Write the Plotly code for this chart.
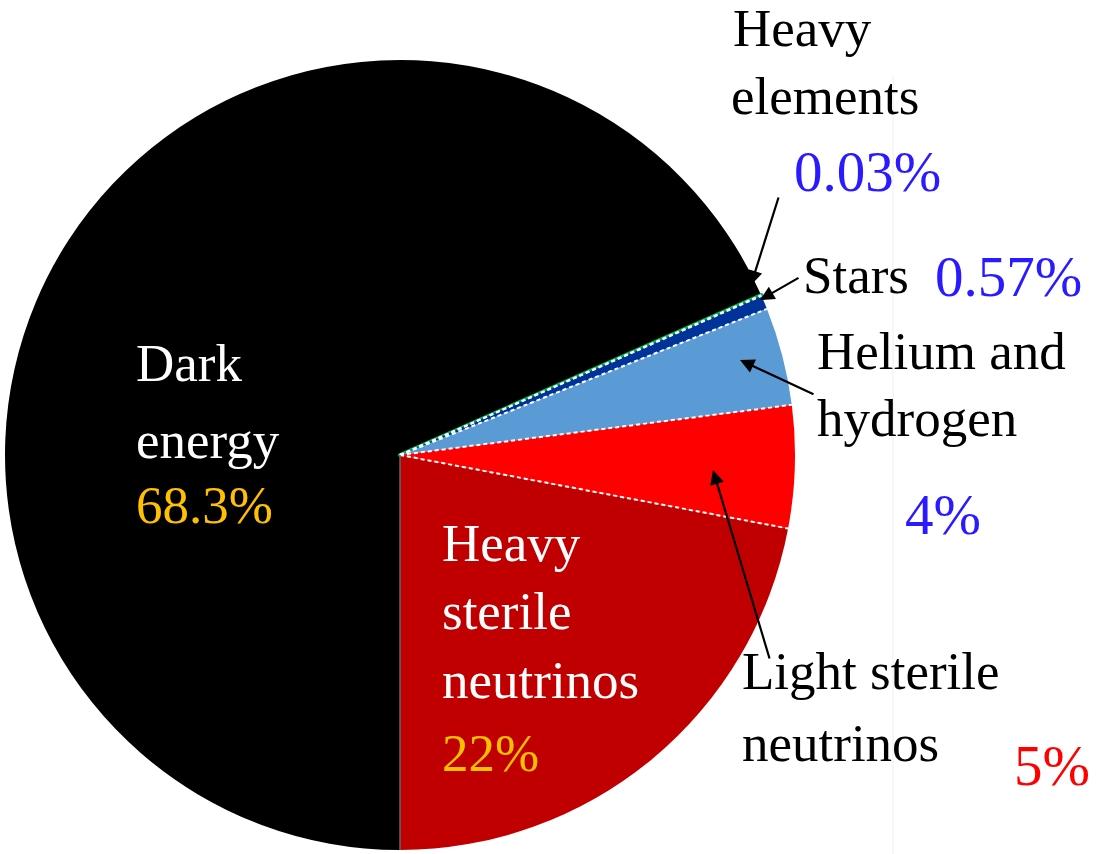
import math
import plotly.graph_objects as go

# ---- data ----
components = ["Dark energy", "Heavy elements", "Stars", "Helium and hydrogen",
              "Light sterile neutrinos", "Heavy sterile neutrinos"]
percent = [68.3, 0.03, 0.57, 4, 5, 22]
pct_labels = ["68.3%", "0.03%", "0.57%", "4%", "5%", "22%"]
slice_colors = ["#000000", "#00b050", "#00339a", "#5b9bd5", "#ff0000", "#c00000"]

W, H = 1099, 854
CX, CY, R = 400, 455, 395  # pie centre / radius in pixels (layout)

def px(x):
    return x / W

def py(y):
    return 1 - y / H

dom_x = [px(CX - R), px(CX + R)]
dom_y = [py(CY + R), py(CY - R)]

fig = go.Figure(go.Pie(
    labels=components,
    values=percent,
    sort=False,
    direction="clockwise",
    rotation=180,
    marker=dict(colors=slice_colors,
                line=dict(color=slice_colors, width=[0, 4, 0, 0, 0, 0])),
    textinfo="none",
    hoverinfo="label+value",
    showlegend=False,
    domain=dict(x=dom_x, y=dom_y),
))

# slice boundaries (white dashed), computed from cumulative fractions
shapes = []
total = sum(percent)
cum = 0
for i, v in enumerate(percent[:-1]):
    cum += v
    th = 2 * math.pi * cum / total
    ex = CX - R * math.sin(th)
    ey = CY + R * math.cos(th)
    shapes.append(dict(type="line", xref="paper", yref="paper",
                       x0=px(CX), y0=py(CY), x1=px(ex), y1=py(ey),
                       line=dict(color="white", width=2, dash="4px,3px")))
# first/last boundary (solid thin grey)
shapes.append(dict(type="line", xref="paper", yref="paper",
                   x0=px(CX), y0=py(CY), x1=px(CX), y1=py(CY + R),
                   line=dict(color="#666666", width=1.5)))
# faint vertical rule on the right
shapes.append(dict(type="line", xref="paper", yref="paper",
                   x0=px(893), y0=py(75), x1=px(893), y1=py(854),
                   line=dict(color="#eeeeee", width=1)))

FONT = "Liberation Serif, Times New Roman, serif"
LS = 53   # label font size
PS = 57   # percent font size
BLUE = "#2a1aff"
GOLD = "#ffc000"

def txt(s, x, baseline, color="black", size=LS):
    # place text so that its baseline sits at the given pixel row
    yc = baseline - 0.42 * size
    return dict(text=s, x=px(x), y=py(yc), xref="paper", yref="paper",
                xanchor="left", yanchor="middle", showarrow=False,
                font=dict(family=FONT, size=size, color=color))

def arrow(x, y, fx, fy):
    return dict(text="", x=px(x), y=py(y), xref="paper", yref="paper",
                ax=fx - x, ay=fy - y, showarrow=True, arrowhead=2,
                arrowsize=1.3, arrowwidth=2.2, arrowcolor="black")

annotations = [
    txt("Dark", 134, 385, "white"),
    txt("energy", 134, 462, "white"),
    txt(pct_labels[0], 134, 527, GOLD),
    txt("Heavy", 440, 565, "white"),
    txt("sterile", 440, 633, "white"),
    txt("neutrinos", 440, 702, "white"),
    txt(pct_labels[5], 440, 775, GOLD),
    txt("Heavy", 731, 50),
    txt("elements", 729, 118),
    txt(pct_labels[1], 792, 195, BLUE, PS),
    txt("Stars", 801, 297),
    txt(pct_labels[2], 933, 300, BLUE, PS),
    txt("Helium and", 815, 373),
    txt("hydrogen", 815, 440),
    txt(pct_labels[3], 903, 538, BLUE, PS),
    txt("Light sterile", 740, 693),
    txt("neutrinos", 740, 765),
    txt(pct_labels[4], 1012, 789, "#ff0000", PS),
    arrow(751, 285, 779, 196),
    arrow(760, 300, 800, 277),
    arrow(740, 360, 815, 395),
    arrow(713, 470, 770, 660),
]

fig.update_layout(
    width=W, height=H,
    margin=dict(l=0, r=0, t=0, b=0),
    paper_bgcolor="white",
    plot_bgcolor="white",
    shapes=shapes,
    annotations=annotations,
)

fig.write_html("out.html",
               config={"displayModeBar": False},
               post_script="document.body.style.margin='0';document.body.style.overflow='hidden';")
